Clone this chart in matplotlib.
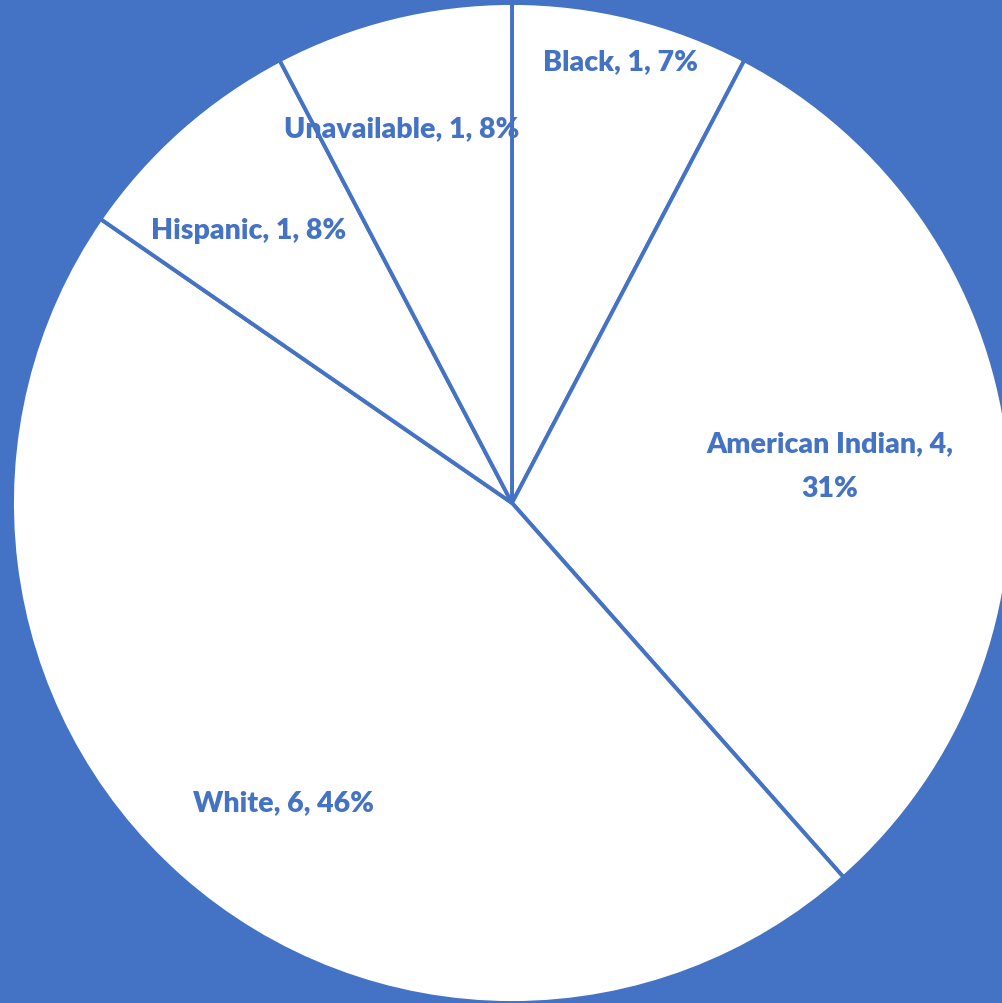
import matplotlib
matplotlib.use("Agg")
import matplotlib.pyplot as plt

categories = ["Black", "American Indian", "White", "Hispanic", "Unavailable"]
counts = [1, 4, 6, 1, 1]
pct_labels = ["7%", "31%", "46%", "8%", "8%"]
label_texts = ["Black, 1, 7%", "American Indian, 4,\n31%", "White, 6, 46%",
               "Hispanic, 1, 8%", "Unavailable, 1, 8%"]

BLUE = "#4472C4"
W, H = 1003, 1004
fig = plt.figure(figsize=(W / 100, H / 100), dpi=100, facecolor=BLUE)
ax = fig.add_axes([0, 0, 1, 1])
ax.set_facecolor(BLUE)

cx, cy, R = 512, 500, 500
wedges, texts = ax.pie(counts, startangle=90, counterclock=False,
                       center=(cx, cy), radius=R, labels=label_texts,
                       labeldistance=0.6, frame=True,
                       colors=["white"] * len(counts),
                       wedgeprops=dict(edgecolor=BLUE, linewidth=2.8))
ax.set_xlim(0, W)
ax.set_ylim(0, H)
ax.set_aspect("equal")
ax.axis("off")

# label offsets (pixels from centre), layout only
offsets = [(109, 442), (318, 37), (-228, -299), (-263, 273), (-110, 375)]
for t, (dx, dy) in zip(texts, offsets):
    t.set_position((cx + dx, cy + dy))
    t.set_ha("center")
    t.set_va("center")
    t.set_multialignment("center")
    t.set_color(BLUE)
    t.set_fontsize(20.5)
    t.set_fontweight("heavy")
    t.set_family(["Lato", "DejaVu Sans"])
    t.set_linespacing(1.9)

fig.savefig("out.png", dpi=100, facecolor=BLUE)
